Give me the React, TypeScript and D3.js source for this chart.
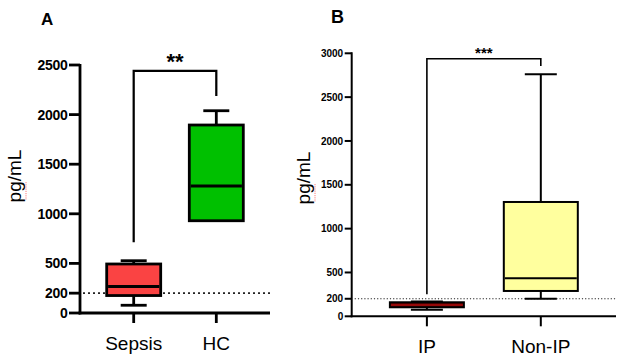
import React from "react";
import * as d3 from "d3";

// Panel A data
const catsA = ["Sepsis", "HC"];
const minA = [78, 930];
const q1A = [176, 930];
const medA = [267, 1280];
const q3A = [494, 1895];
const maxA = [527, 2039];
const ticksA = [0, 200, 500, 1000, 1500, 2000, 2500];
const bracketA = { top: 2440, left: 713, right: 2188, label: "**" };
const colorsA = ["#FA4343", "#00C000"];

// Panel B data
const catsB = ["IP", "Non-IP"];
const minB = [75, 201];
const q1B = [103, 289];
const medB = [129, 433];
const q3B = [160, 1304];
const maxB = [169, 2760];
const ticksB = [0, 200, 500, 1000, 1500, 2000, 2500, 3000];
const bracketB = { top: 2938, left: 251, right: 2855, label: "***" };
const colorsB = ["#5A0000", "#FFFF9E"];
const medColorsB = ["#D01010", "#000000"];

const FONT = "Liberation Sans, Arial, sans-serif";

type PanelProps = {
  cats: string[];
  mins: number[];
  q1: number[];
  med: number[];
  q3: number[];
  maxs: number[];
  ticks: number[];
  domainMax: number;
  x0: number;
  x1: number;
  y0: number;
  y1: number;
  padding: number;
  boxW: number;
  capW: number;
  sw: number;
  medW: number[];
  tickLen: number;
  tickFont: number;
  colors: string[];
  medColors?: string[];
  bracket: { top: number; left: number; right: number; label: string };
  starFont: number;
  starDy: number;
  dotDash: string;
  dotW: number;
  refLine: number;
  letter: string;
  letterX: number;
  letterY: number;
  letterSize: number;
  ylabX: number;
  ylabY: number;
};

function Panel(p: PanelProps) {
  const x = d3.scalePoint<string>().domain(p.cats).range([p.x0, p.x1]).padding(p.padding);
  const y = d3.scaleLinear().domain([0, p.domainMax]).range([p.y0, p.y1]);
  const bx0 = x(p.cats[0])!;
  const bx1 = x(p.cats[1])!;
  return (
    <g>
      <text x={p.letterX} y={p.letterY} fontFamily={FONT} fontWeight="bold" fontSize={p.letterSize}>
        {p.letter}
      </text>
      <text
        transform={`translate(${p.ylabX},${p.ylabY}) rotate(-90)`}
        textAnchor="middle"
        fontFamily={FONT}
        fontSize={19}
      >
        pg/mL
      </text>
      <line
        x1={p.ylabX + 5}
        x2={p.ylabX + 5}
        y1={p.ylabY + 6}
        y2={p.ylabY + 24}
        stroke="#ff5a5a"
        strokeWidth={0.8}
        strokeDasharray="1.2 1"
      />
      <line
        x1={p.x0 + 3}
        x2={p.x1}
        y1={y(p.refLine)}
        y2={y(p.refLine)}
        stroke="#222"
        strokeWidth={p.dotW}
        strokeDasharray={p.dotDash}
      />
      {p.cats.map((c, i) => {
        const cx = x(c)!;
        return (
          <g key={c}>
            <line x1={cx} x2={cx} y1={y(p.maxs[i])} y2={y(p.q3[i])} stroke="#000" strokeWidth={p.sw} />
            <line x1={cx} x2={cx} y1={y(p.mins[i])} y2={y(p.q1[i])} stroke="#000" strokeWidth={p.sw} />
            <line
              x1={cx - p.capW / 2}
              x2={cx + p.capW / 2}
              y1={y(p.maxs[i])}
              y2={y(p.maxs[i])}
              stroke="#000"
              strokeWidth={p.sw}
            />
            {p.mins[i] < p.q1[i] && (
              <line
                x1={cx - p.capW / 2}
                x2={cx + p.capW / 2}
                y1={y(p.mins[i])}
                y2={y(p.mins[i])}
                stroke="#000"
                strokeWidth={p.sw}
              />
            )}
            <rect
              x={cx - p.boxW / 2}
              y={y(p.q3[i])}
              width={p.boxW}
              height={y(p.q1[i]) - y(p.q3[i])}
              fill={p.colors[i]}
              stroke="#000"
              strokeWidth={p.sw}
            />
            <line
              x1={cx - p.boxW / 2 + p.sw / 2}
              x2={cx + p.boxW / 2 - p.sw / 2}
              y1={y(p.med[i])}
              y2={y(p.med[i])}
              stroke={p.medColors ? p.medColors[i] : "#000"}
              strokeWidth={p.medW[i]}
            />
          </g>
        );
      })}
      <path
        d={`M${bx0},${y(p.bracket.left)}V${y(p.bracket.top)}H${bx1}V${y(p.bracket.right)}`}
        fill="none"
        stroke="#000"
        strokeWidth={p.sw * 0.8}
      />
      <text
        x={(bx0 + bx1) / 2}
        y={y(p.bracket.top) - p.starDy}
        textAnchor="middle"
        fontFamily={FONT}
        fontWeight="bold"
        fontSize={p.starFont}
      >
        {p.bracket.label}
      </text>
      <line x1={p.x0} x2={p.x0} y1={p.y0 + p.sw / 2} y2={p.y1 - 1} stroke="#000" strokeWidth={p.sw} />
      {p.ticks.map((t) => (
        <g key={t}>
          <line x1={p.x0 - p.tickLen} x2={p.x0} y1={y(t)} y2={y(t)} stroke="#000" strokeWidth={p.sw} />
          <text
            x={p.x0 - p.tickLen - 1.5}
            y={y(t)}
            dy="0.36em"
            textAnchor="end"
            fontFamily={FONT}
            fontWeight="bold"
            fontSize={p.tickFont}
            letterSpacing={p.tickFont > 12 ? -0.3 : 0}
          >
            {t}
          </text>
        </g>
      ))}
      <line x1={p.x0 - p.sw / 2} x2={p.x1} y1={p.y0} y2={p.y0} stroke="#000" strokeWidth={p.sw} />
      {p.cats.map((c) => (
        <g key={c}>
          <line x1={x(c)!} x2={x(c)!} y1={p.y0} y2={p.y0 + 10} stroke="#000" strokeWidth={p.sw} />
          <text x={x(c)!} y={p.y0 + 37} textAnchor="middle" fontFamily={FONT} fontSize={19}>
            {c}
          </text>
        </g>
      ))}
    </g>
  );
}

export default function App() {
  return (
    <svg width={624} height={360} style={{ position: "absolute", left: 0, top: 0, background: "#fff" }}>
      <rect width={624} height={360} fill="#fff" />
      <Panel
        cats={catsA}
        mins={minA}
        q1={q1A}
        med={medA}
        q3={q3A}
        maxs={maxA}
        ticks={ticksA}
        domainMax={2500}
        x0={80}
        x1={270}
        y0={313}
        y1={65}
        padding={0.65}
        boxW={54}
        capW={26}
        sw={2.8}
        medW={[2.8, 2.8]}
        tickLen={11}
        tickFont={14}
        colors={colorsA}
        bracket={bracketA}
        starFont={22}
        starDy={2}
        dotDash="2 3"
        dotW={1.8}
        refLine={200}
        letter="A"
        letterX={41}
        letterY={25}
        letterSize={17}
        ylabX={21}
        ylabY={176}
      />
      <Panel
        cats={catsB}
        mins={minB}
        q1={q1B}
        med={medB}
        q3={q3B}
        maxs={maxB}
        ticks={ticksB}
        domainMax={3000}
        x0={351.7}
        x1={616}
        y0={316.3}
        y1={53.3}
        padding={0.66}
        boxW={74}
        capW={32}
        sw={2}
        medW={[1.2, 2]}
        tickLen={7}
        tickFont={10}
        colors={colorsB}
        medColors={medColorsB}
        bracket={bracketB}
        starFont={15}
        starDy={1}
        dotDash="1.2 2"
        dotW={1.2}
        refLine={200}
        letter="B"
        letterX={331}
        letterY={23}
        letterSize={18}
        ylabX={310}
        ylabY={178}
      />
    </svg>
  );
}
